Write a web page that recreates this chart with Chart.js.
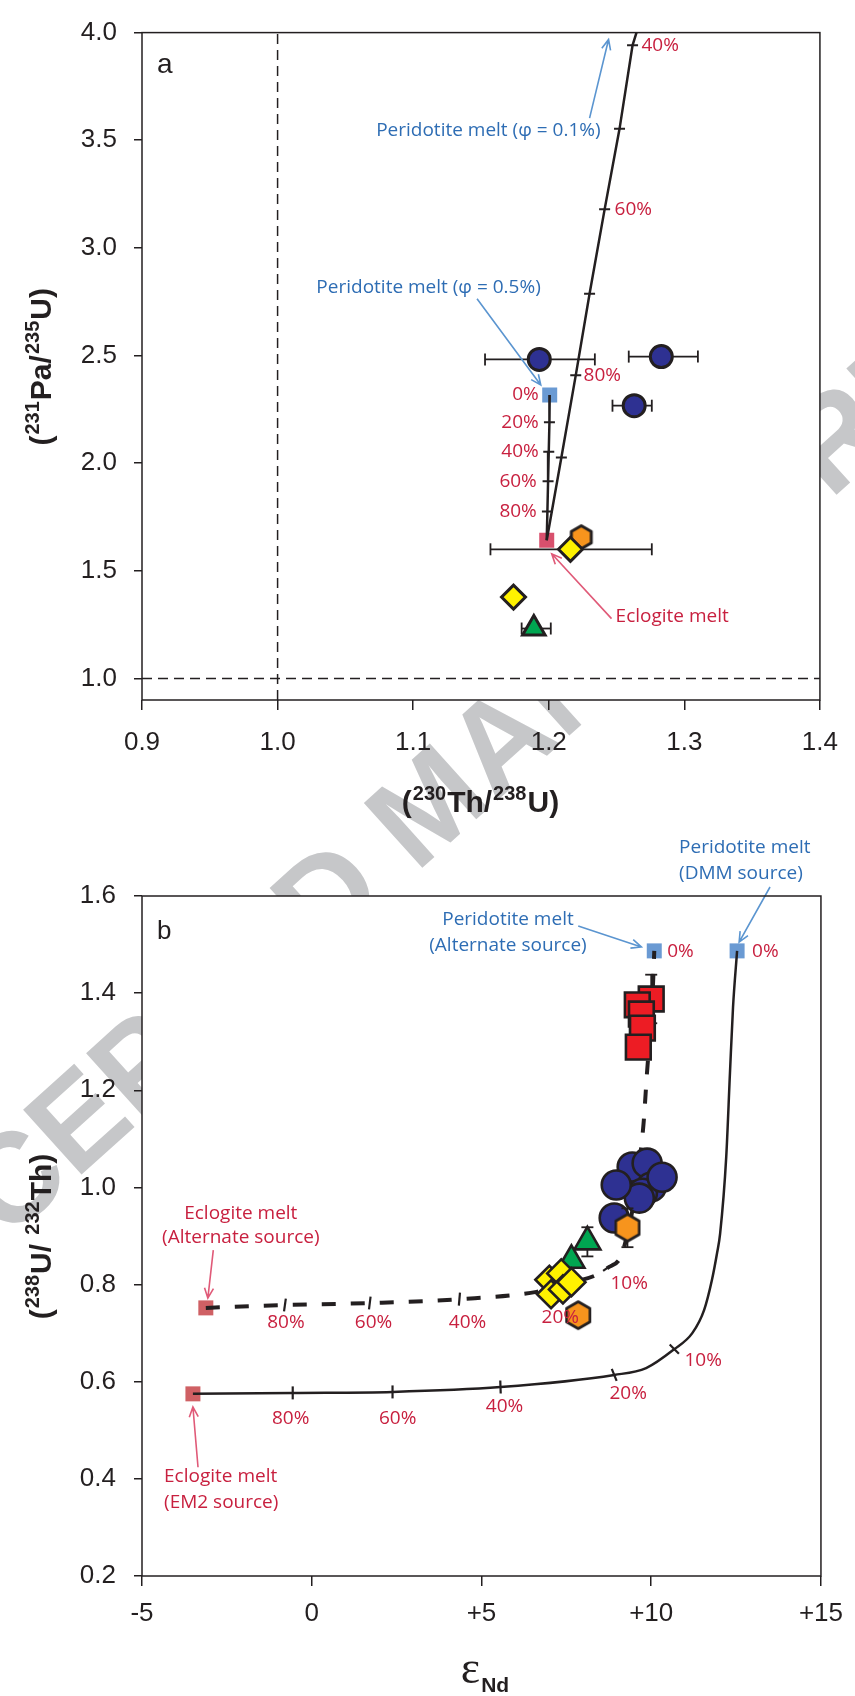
<!DOCTYPE html>
<html lang="en">
<head>
<meta charset="UTF-8">
<title>U-series disequilibria and Nd isotopes: mixing models</title>
<script src="https://cdn.jsdelivr.net/npm/chart.js"></script>
<style>
  html, body { margin: 0; padding: 0; background: #fff; }
  #page { position: relative; width: 855px; height: 1696px; overflow: hidden; }
  #wm { position: absolute; left: 0; top: 0; }
  .box { position: absolute; left: 0; width: 855px; }
  #boxA { top: 0; height: 840px; }
  #boxB { top: 840px; height: 856px; }
</style>
</head>
<body>
<div id="page">
  <canvas id="wm" width="855" height="1696"></canvas>
  <div class="box" id="boxA"><canvas id="chartA" width="855" height="840"></canvas></div>
  <div class="box" id="boxB"><canvas id="chartB" width="855" height="856"></canvas></div>
</div>

<script>
// ---------- panel a: (230Th/238U) vs (231Pa/235U) ----------
const thTicks = [0.9, 1.0, 1.1, 1.2, 1.3, 1.4];
const paTicks = [1.0, 1.5, 2.0, 2.5, 3.0, 3.5, 4.0];

const circA_x = [1.193, 1.283, 1.263];
const circA_y = [2.482, 2.495, 2.267];
const circA_ex = [[1.153, 1.234], [1.259, 1.310], [1.247, 1.276]];

const hexA_x = [1.224];
const hexA_y = [1.656];

const diaA_x = [1.216, 1.174];
const diaA_y = [1.600, 1.378];
const diaA_ex = [[1.157, 1.276], null];
const diaA_ey = [[1.574, 1.626], null];

const triA_x = [1.189];
const triA_y = [1.232];
const triA_ex = [[1.180, 1.2015]];

// end members
const periA = [1.2007, 2.317];   // peridotite melt, phi = 0.5%
const eclA = [1.1985, 1.642];    // eclogite melt

// mixing curves (ticks every 20% and every 10%)
const mixA1_x = [1.2007, 1.2005, 1.2000, 1.1995, 1.1990, 1.1985];
const mixA1_y = [2.317, 2.190, 2.053, 1.916, 1.775, 1.642];
const mixA2_x = [1.1985, 1.2093, 1.2199, 1.2301, 1.2412, 1.2522, 1.2618, 1.2647];
const mixA2_y = [1.642, 2.026, 2.408, 2.787, 3.179, 3.553, 3.941, 4.000];

const refA = [1.0, 1.0]; // secular equilibrium lines

// ---------- panel b: eNd vs (238U/232Th) ----------
const ndTicks = [-5, 0, 5, 10, 15];
const utTicks = [0.2, 0.4, 0.6, 0.8, 1.0, 1.2, 1.4, 1.6];

const sqB_x = [10.00, 9.59, 9.71, 9.74, 9.62];
const sqB_y = [1.388, 1.376, 1.357, 1.328, 1.289];
const sqB_ey = [[1.338, 1.438], null, null, null, null];

const circB_x = [9.44, 9.88, 10.00, 9.74, 9.65, 10.32, 8.97, 8.91];
const circB_y = [1.042, 1.050, 1.001, 0.988, 0.978, 1.021, 1.005, 0.937];

const hexB_x = [9.30, 7.85];
const hexB_y = [0.917, 0.737];
const hexB_ey = [[0.877, 0.957], null];

const triB_x = [8.12, 7.65];
const triB_y = [0.888, 0.850];
const triB_ey = [[0.858, 0.918], null];

const diaB_x = [7.00, 7.35, 7.05, 7.40, 7.65];
const diaB_y = [0.810, 0.823, 0.780, 0.790, 0.805];

const periDMM = [12.53, 1.487];
const periAlt = [10.09, 1.487];
const eclEM2 = [-3.50, 0.575];
const eclAlt = [-3.12, 0.752];

// EM2 eclogite -> DMM peridotite
const mixB1_x = [-3.50, -0.56, 2.38, 5.56, 8.91, 9.85, 10.68, 11.21, 11.56, 11.79, 11.94, 12.03, 12.21, 12.32, 12.41, 12.53];
const mixB1_y = [0.575, 0.577, 0.579, 0.589, 0.614, 0.628, 0.667, 0.700, 0.748, 0.810, 0.865, 0.905, 1.063, 1.236, 1.371, 1.487];
const tickB1_x = [-0.56, 2.38, 5.56, 8.91, 10.68];
const tickB1_y = [0.577, 0.579, 0.589, 0.614, 0.667];
const tickB1_rot = [90, 90, 88, 68, 45];

// alternate eclogite -> alternate peridotite
const mixB2_x = [-3.12, -0.79, 1.71, 4.35, 6.62, 7.40, 8.71, 9.20, 9.76, 9.88, 10.00, 10.06, 10.09];
const mixB2_y = [0.752, 0.758, 0.762, 0.770, 0.785, 0.800, 0.834, 0.877, 1.120, 1.240, 1.350, 1.430, 1.487];
const tickB2_x = [-0.79, 1.71, 4.35, 8.74];
const tickB2_y = [0.758, 0.762, 0.770, 0.836];
const tickB2_rot = [98, 97, 95, -35];

// ---------- colours ----------
const INK = '#231f20';
const NAVY = '#2e3192', ORANGE = '#f7941d', YELLOW = '#fff200', GREEN = '#00a651', RED = '#ed1c24';
const SKY = '#6a9ad3';
const ROSE_A = '#d8506d', ROSE_B = '#cf6064';
const BLUE_TXT = '#2e6db4', RED_TXT = '#c8203f';
const BLUE_ARROW = '#5b95d0', RED_ARROW = '#e05a78';
const NOTE_FONT = '"Open Sans", "Noto Sans", sans-serif';
const AXIS_FONT = '"Liberation Sans", Arial, sans-serif';

Chart.defaults.font.family = AXIS_FONT;
Chart.defaults.color = INK;

const pts = (xs, ys) => xs.map((x, i) => ({ x, y: ys[i] }));

function hexagon(size, fill, lw) {
    const c = document.createElement('canvas');
    c.width = c.height = Math.ceil(size + lw + 2);
    const g = c.getContext('2d');
    const r = size / 2, cx = c.width / 2, cy = c.height / 2;
    g.beginPath();
    for (let k = 0; k < 6; k++) {
        const a = Math.PI / 180 * (60 * k - 90);
        g.lineTo(cx + r * Math.cos(a), cy + r * Math.sin(a));
    }
    g.closePath();
    g.fillStyle = fill;
    g.fill();
    g.lineWidth = lw;
    g.lineJoin = 'round';
    g.strokeStyle = INK;
    g.stroke();
    return c;
}

function markers(data, style, radius, fill, order, lw, extra) {
    return Object.assign({
        data, pointStyle: style, pointRadius: radius, pointHoverRadius: radius,
        pointBackgroundColor: fill, pointBorderColor: INK, pointBorderWidth: lw,
        showLine: false, order
    }, extra || {});
}

function curve(data, order, extra) {
    return Object.assign({
        data, showLine: true, borderColor: INK, borderWidth: 2.5,
        pointRadius: 0, pointHoverRadius: 0, fill: false, order
    }, extra || {});
}

function tickMarks(data, rot, order) {
    return {
        data, showLine: false, pointStyle: 'line', pointRadius: 6.5, pointHoverRadius: 6.5,
        pointBorderColor: INK, pointBorderWidth: 2.2, pointRotation: rot, order
    };
}

// ---------- plugins ----------
const plotFrame = {
    id: 'plotFrame',
    beforeDraw(chart) {
        const { ctx, chartArea: a } = chart;
        ctx.save();
        ctx.fillStyle = '#fff';
        ctx.fillRect(a.left, a.top, a.right - a.left, a.bottom - a.top);
        ctx.restore();
    },
    afterDraw(chart) {
        const { ctx, chartArea: a } = chart;
        ctx.save();
        ctx.strokeStyle = INK;
        ctx.lineWidth = 1.5;
        ctx.strokeRect(a.left, a.top, a.right - a.left, a.bottom - a.top);
        ctx.restore();
    }
};

const errorBars = {
    id: 'errorBars',
    beforeDatasetDraw(chart, args) {
        const ds = chart.data.datasets[args.index];
        if (!ds.errX && !ds.errY) return;
        const { ctx } = chart, sx = chart.scales.x, sy = chart.scales.y;
        const seg = (x1, y1, x2, y2) => { ctx.beginPath(); ctx.moveTo(x1, y1); ctx.lineTo(x2, y2); ctx.stroke(); };
        ctx.save();
        ctx.strokeStyle = INK;
        ctx.lineWidth = 1.8;
        ds.data.forEach((p, i) => {
            const px = sx.getPixelForValue(p.x), py = sy.getPixelForValue(p.y);
            const ex = ds.errX && ds.errX[i], ey = ds.errY && ds.errY[i];
            if (ex) {
                const a = sx.getPixelForValue(ex[0]), b = sx.getPixelForValue(ex[1]);
                seg(a, py, b, py); seg(a, py - 6, a, py + 6); seg(b, py - 6, b, py + 6);
            }
            if (ey) {
                const a = sy.getPixelForValue(ey[0]), b = sy.getPixelForValue(ey[1]);
                seg(px, a, px, b); seg(px - 6, a, px + 6, a); seg(px - 6, b, px + 6, b);
            }
        });
        ctx.restore();
    }
};

// text made of pieces: [text, size, bold, dy, family]
function drawRich(ctx, parts, x, y, angle) {
    ctx.save();
    ctx.translate(x, y);
    ctx.rotate(angle);
    ctx.fillStyle = INK;
    ctx.textBaseline = 'alphabetic';
    ctx.textAlign = 'left';
    const fontOf = p => (p[2] ? 'bold ' : '') + p[1] + 'px ' + (p[4] || AXIS_FONT);
    let total = 0;
    const widths = parts.map(p => { ctx.font = fontOf(p); const w = ctx.measureText(p[0]).width + 1; total += w; return w; });
    let cx = -total / 2;
    parts.forEach((p, i) => { ctx.font = fontOf(p); ctx.fillText(p[0], cx, p[3] || 0); cx += widths[i]; });
    ctx.restore();
}

function arrow(ctx, x1, y1, x2, y2, color) {
    const ang = Math.atan2(y2 - y1, x2 - x1), h = 11, spread = 0.42;
    ctx.save();
    ctx.strokeStyle = color;
    ctx.lineWidth = 1.6;
    ctx.beginPath();
    ctx.moveTo(x1, y1);
    ctx.lineTo(x2, y2);
    ctx.moveTo(x2 - h * Math.cos(ang - spread), y2 - h * Math.sin(ang - spread));
    ctx.lineTo(x2, y2);
    ctx.lineTo(x2 - h * Math.cos(ang + spread), y2 - h * Math.sin(ang + spread));
    ctx.stroke();
    ctx.restore();
}

function annotations(notes, arrows, panelLetter, titles) {
    return {
        id: 'annotations',
        afterDatasetsDraw(chart) {
            const { ctx, chartArea: a } = chart, sx = chart.scales.x, sy = chart.scales.y;
            arrows.forEach(r => arrow(ctx, sx.getPixelForValue(r.x1), sy.getPixelForValue(r.y1),
                sx.getPixelForValue(r.x2), sy.getPixelForValue(r.y2), r.color));
            ctx.save();
            notes.forEach(n => {
                ctx.font = (n.size || 19) + 'px ' + NOTE_FONT;
                ctx.fillStyle = n.color;
                ctx.textAlign = n.align || 'center';
                ctx.textBaseline = 'middle';
                ctx.fillText(n.text, sx.getPixelForValue(n.x), sy.getPixelForValue(n.y));
            });
            ctx.font = panelLetter.size + 'px ' + AXIS_FONT;
            ctx.fillStyle = INK;
            ctx.textAlign = 'left';
            ctx.textBaseline = 'alphabetic';
            ctx.fillText(panelLetter.text, a.left + 15, a.top + panelLetter.dy);
            ctx.restore();
        },
        afterDraw(chart) {
            titles(chart.ctx, chart.chartArea);
        }
    };
}

function scaleOpts(min, max, tickList, fmt, size, fit, tickLen, pad) {
    return {
        type: 'linear', min, max,
        afterBuildTicks: s => { s.ticks = tickList.map(v => ({ value: v })); },
        afterFit: fit,
        border: { display: false },
        grid: { drawOnChartArea: false, drawTicks: true, tickLength: tickLen, color: INK, lineWidth: 1.5 },
        ticks: { callback: fmt, font: { size }, color: INK, padding: pad, maxRotation: 0, autoSkip: false }
    };
}

const baseOptions = (scales, padding) => ({
    responsive: false,
    animation: false,
    layout: { padding },
    plugins: { legend: { display: false }, tooltip: { enabled: false } },
    scales
});

// ---------- panel a ----------
const notesA = [
    { text: 'Peridotite melt (\u03c6 = 0.1%)', x: 1.2382, y: 3.544, color: BLUE_TXT, align: 'right' },
    { text: 'Peridotite melt (\u03c6 = 0.5%)', x: 1.1941, y: 2.815, color: BLUE_TXT, align: 'right' },
    { text: 'Eclogite melt', x: 1.2493, y: 1.287, color: RED_TXT, align: 'left' },
    { text: '40%', x: 1.2684, y: 3.941, color: RED_TXT, align: 'left' },
    { text: '60%', x: 1.2485, y: 3.179, color: RED_TXT, align: 'left' },
    { text: '80%', x: 1.2257, y: 2.409, color: RED_TXT, align: 'left' },
    { text: '0%', x: 1.1926, y: 2.318, color: RED_TXT, align: 'right' },
    { text: '20%', x: 1.1926, y: 2.190, color: RED_TXT, align: 'right' },
    { text: '40%', x: 1.1926, y: 2.053, color: RED_TXT, align: 'right' },
    { text: '60%', x: 1.1912, y: 1.916, color: RED_TXT, align: 'right' },
    { text: '80%', x: 1.1912, y: 1.775, color: RED_TXT, align: 'right' }
];
const arrowsA = [
    { x1: 1.2301, y1: 3.603, x2: 1.2441, y2: 3.968, color: BLUE_ARROW },
    { x1: 1.1471, y1: 2.764, x2: 1.1941, y2: 2.363, color: BLUE_ARROW },
    { x1: 1.2463, y1: 1.278, x2: 1.2022, y2: 1.579, color: RED_ARROW }
];

function titlesA(ctx, a) {
    drawRich(ctx, [['(', 30, true], ['231', 20, true, -12], ['Pa/', 30, true], ['235', 20, true, -12], ['U)', 30, true]],
        51, (a.top + a.bottom) / 2, -Math.PI / 2);
    drawRich(ctx, [['(', 30, true], ['230', 20, true, -12], ['Th/', 30, true], ['238', 20, true, -12], ['U)', 30, true]],
        (a.left + a.right) / 2, 812, 0);
}

const edgeTicks = c => (c.dataIndex === 0 || c.dataIndex === c.dataset.data.length - 1) ? 0 : 5.5;

new Chart(document.getElementById('chartA'), {
    type: 'scatter',
    data: {
        datasets: [
            curve([{ x: refA[0], y: 0.9 }, { x: refA[0], y: 4.0 }], 12, { borderWidth: 1.5, borderDash: [10, 6] }),
            curve([{ x: 0.9, y: refA[1] }, { x: 1.4, y: refA[1] }], 12, { borderWidth: 1.5, borderDash: [10, 6] }),
            markers([{ x: periA[0], y: periA[1] }], 'rect', 10.6, SKY, 11, 0),
            markers([{ x: eclA[0], y: eclA[1] }], 'rect', 10.6, ROSE_A, 11, 0),
            curve(pts(mixA1_x, mixA1_y), 9, { pointStyle: 'line', pointRadius: edgeTicks, pointBorderColor: INK, pointBorderWidth: 2 }),
            curve(pts(mixA2_x, mixA2_y), 9, { pointStyle: 'line', pointRadius: edgeTicks, pointBorderColor: INK, pointBorderWidth: 2 }),
            markers(pts(circA_x, circA_y), 'circle', 11, NAVY, 4, 3, { errX: circA_ex }),
            markers(pts(triA_x, triA_y), 'triangle', 13, GREEN, 4, 3, { errX: triA_ex }),
            markers(pts(hexA_x, hexA_y), hexagon(23, ORANGE, 3), 12, ORANGE, 3, 3),
            markers(pts(diaA_x, diaA_y), 'rectRot', 12, YELLOW, 2, 3, { errX: diaA_ex, errY: diaA_ey })
        ]
    },
    options: baseOptions({
        x: scaleOpts(0.9, 1.4, thTicks, v => v.toFixed(1), 26, s => { s.height = 140; }, 10, 17),
        y: scaleOpts(0.9, 4.0, paTicks, v => v.toFixed(1), 26, s => { s.width = 142; }, 8, 17)
    }, { top: 20, right: 33, left: 0, bottom: 0 }),
    plugins: [plotFrame, errorBars, annotations(notesA, arrowsA, { text: 'a', size: 28, dy: 40 }, titlesA)]
});

// ---------- panel b ----------
const notesB = [
    { text: 'Peridotite melt', x: 10.82, y: 1.699, color: BLUE_TXT, align: 'left' },
    { text: '(DMM source)', x: 10.82, y: 1.647, color: BLUE_TXT, align: 'left' },
    { text: 'Peridotite melt', x: 5.78, y: 1.551, color: BLUE_TXT },
    { text: '(Alternate source)', x: 5.78, y: 1.497, color: BLUE_TXT },
    { text: '0%', x: 10.47, y: 1.485, color: RED_TXT, align: 'left' },
    { text: '0%', x: 12.97, y: 1.485, color: RED_TXT, align: 'left' },
    { text: 'Eclogite melt', x: -2.09, y: 0.947, color: RED_TXT },
    { text: '(Alternate source)', x: -2.09, y: 0.896, color: RED_TXT },
    { text: 'Eclogite melt', x: -4.35, y: 0.404, color: RED_TXT, align: 'left' },
    { text: '(EM2 source)', x: -4.35, y: 0.352, color: RED_TXT, align: 'left' },
    { text: '80%', x: -0.62, y: 0.525, color: RED_TXT },
    { text: '60%', x: 2.53, y: 0.525, color: RED_TXT },
    { text: '40%', x: 5.68, y: 0.548, color: RED_TXT },
    { text: '20%', x: 9.32, y: 0.575, color: RED_TXT },
    { text: '10%', x: 11.53, y: 0.643, color: RED_TXT },
    { text: '80%', x: -0.76, y: 0.721, color: RED_TXT },
    { text: '60%', x: 1.82, y: 0.721, color: RED_TXT },
    { text: '40%', x: 4.59, y: 0.721, color: RED_TXT },
    { text: '20%', x: 7.32, y: 0.731, color: RED_TXT },
    { text: '10%', x: 9.35, y: 0.803, color: RED_TXT }
];
const arrowsB = [
    { x1: 13.50, y1: 1.6185, x2: 12.59, y2: 1.505, color: BLUE_ARROW },
    { x1: 7.85, y1: 1.538, x2: 9.71, y2: 1.495, color: BLUE_ARROW },
    { x1: -2.90, y1: 0.871, x2: -3.06, y2: 0.772, color: RED_ARROW },
    { x1: -3.35, y1: 0.424, x2: -3.50, y2: 0.548, color: RED_ARROW }
];

function titlesB(ctx, a) {
    drawRich(ctx, [['(', 30, true], ['238', 20, true, -12], ['U/ ', 30, true], ['232', 20, true, -12], ['Th)', 30, true]],
        51, (a.top + a.bottom) / 2, -Math.PI / 2);
    drawRich(ctx, [['\u03b5', 46, false, 0, '"Liberation Serif", serif'], ['Nd', 21, true, 9]],
        (a.left + a.right) / 2 + 4, 843, 0);
}

new Chart(document.getElementById('chartB'), {
    type: 'scatter',
    data: {
        datasets: [
            markers([{ x: periDMM[0], y: periDMM[1] }, { x: periAlt[0], y: periAlt[1] }], 'rect', 10.6, SKY, 11, 0),
            markers([{ x: eclEM2[0], y: eclEM2[1] }, { x: eclAlt[0], y: eclAlt[1] }], 'rect', 10.6, ROSE_B, 11, 0),
            curve(pts(mixB1_x, mixB1_y), 9, { cubicInterpolationMode: 'monotone' }),
            curve(pts(mixB2_x, mixB2_y), 9, { cubicInterpolationMode: 'monotone', borderWidth: 4, borderDash: [14, 15] }),
            tickMarks(pts(tickB1_x, tickB1_y), tickB1_rot, 8),
            tickMarks(pts(tickB2_x, tickB2_y), tickB2_rot, 8),
            markers(pts(sqB_x, sqB_y), 'rect', 17.5, RED, 6, 2.6, { errY: sqB_ey }),
            markers(pts(circB_x, circB_y), 'circle', 14.5, NAVY, 5, 2.6),
            markers(pts(triB_x, triB_y), 'triangle', 15, GREEN, 4, 2.6, { errY: triB_ey }),
            markers(pts(diaB_x, diaB_y), 'rectRot', 14, YELLOW, 3, 2.6),
            markers(pts(hexB_x, hexB_y), hexagon(27, ORANGE, 2.6), 14, ORANGE, 2, 2.6, { errY: hexB_ey })
        ]
    },
    options: baseOptions({
        x: scaleOpts(-5, 15, ndTicks, v => (v > 0 ? '+' + v : String(v)), 26, s => { s.height = 120; }, 10, 12),
        y: scaleOpts(0.2, 1.6, utTicks, v => v.toFixed(1), 26, s => { s.width = 142; }, 8, 18)
    }, { top: 56, right: 33, left: 0, bottom: 0 }),
    plugins: [plotFrame, errorBars, annotations(notesB, arrowsB, { text: 'b', size: 26, dy: 43 }, titlesB)]
});

// ---------- "ACCEPTED MANUSCRIPT" watermark behind the panels ----------
(function watermark() {
    const g = document.getElementById('wm').getContext('2d');
    g.font = 'bold 127px ' + AXIS_FONT;
    g.fillStyle = '#c6c7c9';
    g.textBaseline = 'middle';
    const lead = g.measureText('ACCEPTED ').width + g.measureText('M').width / 2;
    g.save();
    g.translate(432, 812);
    g.rotate(-42 * Math.PI / 180);
    g.fillText('ACCEPTED MANUSCRIPT', -lead, 0);
    g.restore();
})();
</script>
</body>
</html>
